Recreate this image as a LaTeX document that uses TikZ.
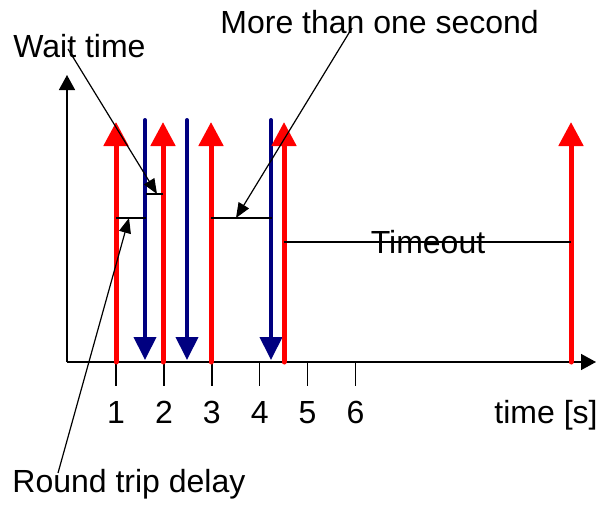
\documentclass[tikz,border=0pt]{standalone}
\usepackage{fontspec}
\setmainfont{Liberation Sans}
\usetikzlibrary{arrows.meta}
\definecolor{ReqRed}{RGB}{255,0,0}
\definecolor{AckBlue}{RGB}{0,0,128}
\begin{document}
\begin{tikzpicture}[x=0.5pt,y=-0.5pt, every node/.style={font=\fontsize{16}{19}\selectfont,inner sep=0pt},
 req/.style={-{Triangle[length=12pt,width=12pt]},line width=2.5pt,ReqRed,line cap=round},
 ack/.style={-{Triangle[length=11.5pt,width=11pt]},line width=2pt,AckBlue,line cap=round},
 axis/.style={-{Triangle[length=7.5pt,width=8pt]},line width=0.75pt},
 span/.style={line width=0.7pt},
 lead/.style={-{Triangle[length=7.5pt,width=6pt]},line width=0.6pt}]
\useasboundingbox (0,0) rectangle (600,504);
% axes
\coordinate (O) at (67,362);
\coordinate (ytop) at (67,75);
\coordinate (xend) at (596,362);
\draw[axis] (O) -- (ytop);
\draw[axis] (O) -- (xend);
% ticks and labels
\foreach \i in {1,...,6} {
  \draw[span] (68.1+47.9*\i,362) -- (68.1+47.9*\i,386);
  \node[anchor=base] (t\i) at (68.1+47.9*\i,423) {\i};
}
\node[anchor=base east] (tlabel) at (598,423) {time [s]};
% replies (down) and requests (up)
\foreach \x in {145,187,271}
  \draw[ack] (\x,120) -- (\x,360);
\foreach \x in {116,163,211,284,571}
  \draw[req] (\x,362) -- (\x,122);
% intervals
\draw[span] (116,218) coordinate (rtdA) -- (146,218) coordinate (rtdB);
\draw[span] (146,194) coordinate (waitA) -- (163,194) coordinate (waitB);
\draw[span] (211,218) coordinate (moreA) -- (272,218) coordinate (moreB);
\draw[span] (284,242) coordinate (toA) -- (571,242) coordinate (toB);
% labels
\node[anchor=base west] (wait) at (13,57) {Wait time};
\node[anchor=base west] (more) at (220,33) {More than one second};
\node[anchor=base west] (round) at (12,492) {Round trip delay};
\node[anchor=base] (timeout) at (428,253) {Timeout};
% leaders
\coordinate (waitS) at (68,49);
\coordinate (waitT) at (157,194);
\coordinate (moreS) at (352,28);
\coordinate (moreT) at (236,218);
\coordinate (roundS) at (58,473);
\coordinate (roundT) at (129,218);
\draw[lead] (waitS) -- (waitT);
\draw[lead] (moreS) -- (moreT);
\draw[lead] (roundS) -- (roundT);
\end{tikzpicture}
\end{document}
